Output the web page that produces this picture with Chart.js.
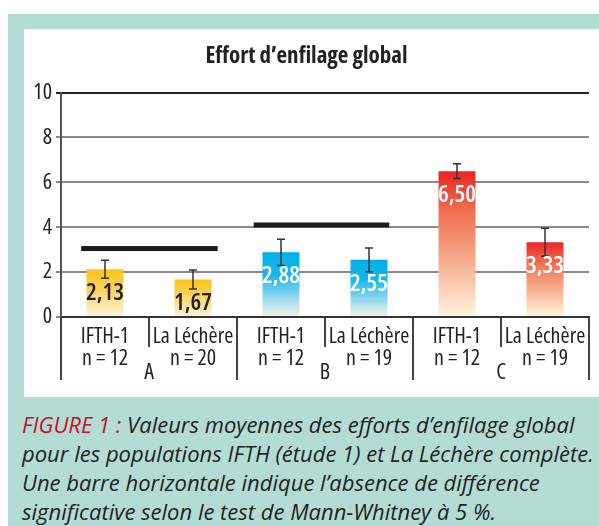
<!DOCTYPE html>
<html>
<head>
<meta charset="utf-8">
<script src="https://cdn.jsdelivr.net/npm/chart.js@4/dist/chart.umd.min.js"></script>
<style>
  body { margin: 0; background: #fff; width: 599px; height: 526px; overflow: hidden; position: relative; }
  #frame { position: absolute; left: 8px; top: 14px; width: 591px; height: 512px; background: #b3ddd4; }
  #panel { position: absolute; left: 16px; top: 15px; width: 575px; height: 368px; background: #fff; }
  #caption { position: absolute; left: 14px; top: 396px; width: 580px; font-family: "Open Sans", sans-serif;
             font-style: italic; font-weight: 500; font-stretch: 91%; font-size: 22px; line-height: 29px;
             color: #222; white-space: nowrap; }
  #caption span { color: #c8102e; }
</style>
</head>
<body>
<div id="frame">
  <div id="panel"><canvas id="chart" width="575" height="368"></canvas></div>
  <div id="caption"><span>FIGURE 1 :</span> Valeurs moyennes des efforts d’enfilage global<br>pour les populations IFTH (étude 1) et La Léchère complète.<br>Une barre horizontale indique l’absence de différence<br>significative selon le test de Mann-Whitney à 5 %.</div>
</div>
<script>
// data
var labels = [["IFTH-1", "n = 12"], ["La Léchère", "n = 20"], ["IFTH-1", "n = 12"], ["La Léchère", "n = 19"], ["IFTH-1", "n = 12"], ["La Léchère", "n = 19"]];
var means = [2.13, 1.67, 2.88, 2.55, 6.50, 3.33];
var errors = [0.40, 0.42, 0.58, 0.53, 0.33, 0.62];
var groups = ["A", "B", "C"];
// horizontal "no difference" bars: start / end (in category units) and level
var sigStart = [-0.27, 1.69];
var sigEnd = [1.28, 3.23];
var sigLevel = [3.05, 4.1];
var yMax = 10;

var FONT = "'Open Sans', sans-serif";

// gradient stops per group (A yellow, B blue, C red)
var gradStops = [
    [[0, "#fac41a"], [0.4, "#fbd257"], [1, "#fdf4e0"]],
    [[0, "#00b0e9"], [0.35, "#14b7ea"], [0.75, "#a6def0"], [1, "#f6f4e0"]],
    [[0, "#eb2424"], [0.25, "#ef6a4c"], [0.6, "#f6aa8a"], [1, "#fff5e0"]]
];
var labelColors = ["#222", "#fff", "#fff"];

function barFill(ctx) {
    var chart = ctx.chart;
    var g = Math.floor(ctx.dataIndex / 2);
    if (!chart.chartArea || !chart.scales.y) return gradStops[g][0][1];
    var y = chart.scales.y;
    var top = y.getPixelForValue(means[ctx.dataIndex]);
    var base = y.getPixelForValue(0);
    var grad = chart.ctx.createLinearGradient(0, top, 0, base);
    gradStops[g].forEach(function (s) { grad.addColorStop(s[0], s[1]); });
    return grad;
}

var extras = {
    id: "extras",
    afterDatasetsDraw: function (chart) {
        var c = chart.ctx, x = chart.scales.x, y = chart.scales.y;
        var meta = chart.getDatasetMeta(0);
        c.save();

        // error bars
        c.strokeStyle = "#333";
        c.lineWidth = 1.5;
        meta.data.forEach(function (bar, i) {
            var t = y.getPixelForValue(means[i] + errors[i]);
            var b = y.getPixelForValue(means[i] - errors[i]);
            c.beginPath();
            c.moveTo(bar.x, t); c.lineTo(bar.x, b);
            c.moveTo(bar.x - 4, t); c.lineTo(bar.x + 4, t);
            c.moveTo(bar.x - 4, b); c.lineTo(bar.x + 4, b);
            c.stroke();
        });

        // value labels inside bars
        c.font = "600 condensed 24px " + FONT;
        c.textAlign = "center";
        c.textBaseline = "middle";
        meta.data.forEach(function (bar, i) {
            c.fillStyle = labelColors[Math.floor(i / 2)];
            c.fillText(means[i].toFixed(2).replace(".", ","), bar.x, bar.y + 24);
        });

        // significance bars
        c.fillStyle = "#1a1a1a";
        for (var k = 0; k < sigLevel.length; k++) {
            var x0 = x.getPixelForValue(sigStart[k]);
            var x1 = x.getPixelForValue(sigEnd[k]);
            var yy = y.getPixelForValue(sigLevel[k]);
            c.fillRect(x0, yy - 2.5, x1 - x0, 5);
        }

        // separators under the x axis
        c.strokeStyle = "#444";
        c.lineWidth = 2;
        var base = y.getPixelForValue(0);
        for (var j = 0; j <= labels.length; j++) {
            var px = Math.round(x.getPixelForValue(j - 0.5));
            c.beginPath();
            c.moveTo(px, base);
            c.lineTo(px, j % 2 === 0 ? base + 63 : base + 30);
            c.stroke();
        }

        // group letters
        c.fillStyle = "#222";
        c.font = "semi-condensed 22px " + FONT;
        groups.forEach(function (g, i) {
            c.fillText(g, x.getPixelForValue(2 * i + 0.5), base + 56);
        });
        c.restore();
    }
};

new Chart(document.getElementById("chart"), {
    type: "bar",
    data: {
        labels: labels,
        datasets: [{
            data: means,
            backgroundColor: barFill,
            barPercentage: 0.42,
            categoryPercentage: 1
        }]
    },
    options: {
        responsive: false,
        animation: false,
        layout: { padding: { left: 0, right: 10, top: 0, bottom: 0 } },
        plugins: {
            legend: { display: false },
            tooltip: { enabled: false },
            title: {
                display: true,
                text: "Effort d’enfilage global",
                color: "#222",
                font: { family: FONT, size: 23, weight: "bold semi-condensed" },
                padding: { top: 14, bottom: 22 }
            }
        },
        scales: {
            x: {
                grid: { display: true, drawOnChartArea: false, drawTicks: false },
                border: { display: true, color: "#333", width: 2 },
                ticks: { color: "#222", font: { family: FONT, size: 22, weight: "semi-condensed", lineHeight: 0.98 }, padding: 9, maxRotation: 0, autoSkip: false },
                afterFit: function (s) { s.height = 80; }
            },
            y: {
                min: 0,
                max: yMax,
                ticks: { stepSize: 2, color: "#222", font: { family: FONT, size: 22, weight: "semi-condensed" }, padding: 4 },
                grid: {
                    color: function (ctx) { return ctx.tick && ctx.tick.value === yMax ? "#222" : "#8a8a8a"; },
                    lineWidth: 2,
                    tickLength: 5
                },
                border: { display: true, color: "#555", width: 2 },
                afterFit: function (s) { s.width = 37; }
            }
        }
    },
    plugins: [extras]
});
</script>
</body>
</html>
